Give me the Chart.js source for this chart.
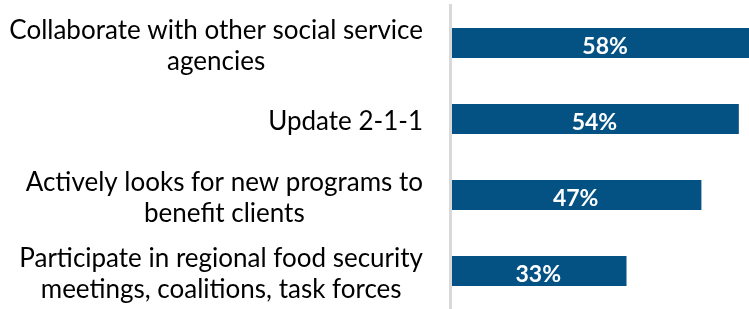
<!DOCTYPE html>
<html>
<head>
<meta charset="utf-8">
<script src="https://cdn.jsdelivr.net/npm/chart.js@4/dist/chart.umd.min.js"></script>
<style>
  html, body { margin: 0; padding: 0; background: #fff; }
  #wrap { width: 749px; height: 309px; position: relative; }
</style>
</head>
<body>
<div id="wrap"><canvas id="activityChart"></canvas></div>
<script>
// category labels, one entry per wrapped line
const categories = [
  ["Collaborate with other social service", "agencies"],
  ["Update 2-1-1"],
  ["Actively looks for new programs to", "benefit clients"],
  ["Participate in regional food security", "meetings, coalitions, task forces"]
];
const percentages = [58, 54, 47, 33];
const axisMax = 55.9; // the picture is cropped at the right, top bar runs past the edge

const barColor = "#035283";

// draws the wrapped category labels (right aligned block, centred lines)
// and the white value labels inside the bars
const labelPlugin = {
  id: "barLabels",
  afterDraw(chart) {
    const ctx = chart.ctx;
    const yScale = chart.scales.y;
    ctx.save();
    ctx.textAlign = "center";
    ctx.textBaseline = "middle";

    ctx.font = "26px Lato";
    ctx.fillStyle = "#000";
    categories.forEach((lines, i) => {
      const y = yScale.getPixelForValue(i);
      const widest = Math.max(...lines.map((l) => ctx.measureText(l).width));
      const x = yScale.right - 27 - widest / 2;
      lines.forEach((line, j) => {
        ctx.fillText(line, x, y + (j - (lines.length - 1) / 2) * 31 + 3);
      });
    });

    ctx.font = "bold 23px Lato";
    ctx.fillStyle = "#fff";
    chart.getDatasetMeta(0).data.forEach((bar, i) => {
      const c = bar.getCenterPoint();
      ctx.fillText(percentages[i] + "%", c.x, c.y + 4);
    });
    ctx.restore();
  }
};

const ctx = document.getElementById("activityChart").getContext("2d");
new Chart(ctx, {
  type: "bar",
  data: {
    labels: categories,
    datasets: [
      {
        data: percentages,
        backgroundColor: barColor,
        borderWidth: 0,
        barPercentage: 0.395,
        categoryPercentage: 1.0,
      },
    ],
  },
  options: {
    indexAxis: "y",
    responsive: true,
    maintainAspectRatio: false,
    animation: false,
    layout: {
      padding: { left: 0, right: 0, top: 5, bottom: -3 },
    },
    plugins: {
      legend: { display: false },
      tooltip: { enabled: false },
    },
    scales: {
      x: {
        display: false,
        min: 0,
        max: axisMax,
      },
      y: {
        grid: { display: false },
        ticks: { display: false },
        border: { color: "#d9d9d9", width: 3, z: 1 },
        afterFit: (scale) => {
          scale.width = 450;
        },
      },
    },
  },
  plugins: [labelPlugin],
});
</script>
</body>
</html>
